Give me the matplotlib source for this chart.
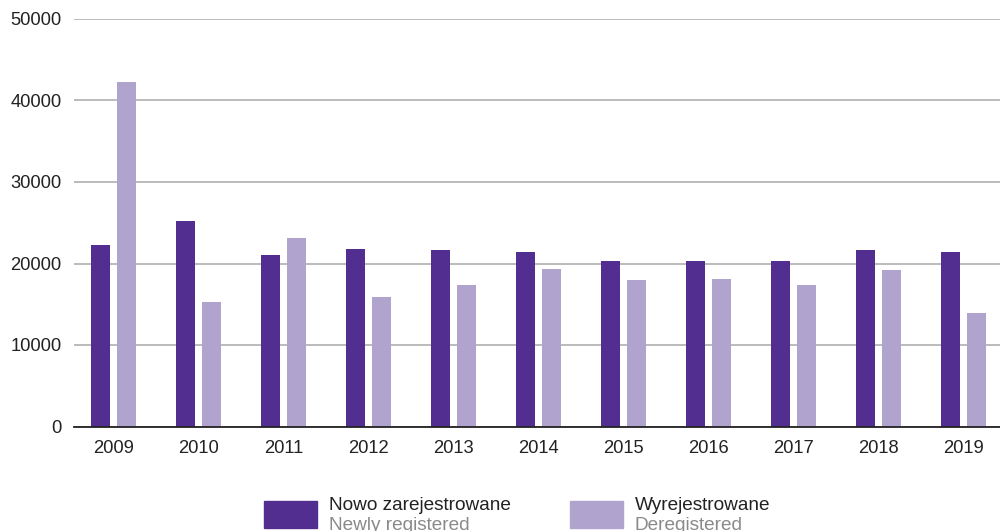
import numpy as np
import matplotlib.pyplot as plt
from matplotlib.patches import Rectangle

plt.rcParams['font.family'] = ['Liberation Sans', 'DejaVu Sans']

years = ['2009', '2010', '2011', '2012', '2013', '2014', '2015', '2016', '2017', '2018', '2019']
newly_registered = [22300, 25200, 21000, 21800, 21700, 21400, 20300, 20300, 20300, 21700, 21400]
deregistered = [42300, 15300, 23100, 15900, 17400, 19300, 18000, 18100, 17400, 19200, 13900]

dark = '#522e91'
light = '#b0a3ce'

fig = plt.figure(figsize=(10, 5.31), dpi=100)
ax = fig.add_axes([0.074, 1 - 426.5 / 531, 0.926, (426.5 - 19) / 531])

x = np.arange(len(years))
w = 0.224
off = 0.153
ax.bar(x - off, newly_registered, w, color=dark, zorder=3)
ax.bar(x + off, deregistered, w, color=light, zorder=3)

ax.set_xlim(-0.465, len(years) - 1 + 0.43)
ax.set_ylim(0, 50000)
ax.set_yticks(np.arange(0, 50001, 10000))
ax.set_xticks(x)
ax.set_xticklabels(years)

for s in ['top', 'right', 'left']:
    ax.spines[s].set_visible(False)
ax.spines['bottom'].set_color('#222222')
ax.spines['bottom'].set_linewidth(1.3)
ax.spines['bottom'].set_zorder(4)

ax.yaxis.grid(True, color='#a8a8a8', linewidth=1.1)
ax.set_axisbelow(True)
ax.tick_params(axis='both', length=0, labelsize=13.2, colors='#222222')
ax.tick_params(axis='y', pad=9)
ax.tick_params(axis='x', pad=9.5)

# legend drawn by hand: swatch + two-line caption
items = [(264, dark, 'Nowo zarejestrowane', 'Newly registered'),
         (570, light, 'Wyrejestrowane', 'Deregistered')]
for px, col, pl, en in items:
    fig.patches.append(Rectangle((px / 1000, 1 - 527.7 / 531), 53 / 1000, 26.7 / 531,
                                 transform=fig.transFigure, color=col))
    fig.text((px + 65) / 1000, 1 - 510 / 531, pl, fontsize=13.7, color='#222222',
             va='baseline', ha='left')
    fig.text((px + 65) / 1000, 1 - 529.5 / 531, en, fontsize=13.7, color='#8a8a8a',
             va='baseline', ha='left')

fig.savefig('out.png', dpi=100)
